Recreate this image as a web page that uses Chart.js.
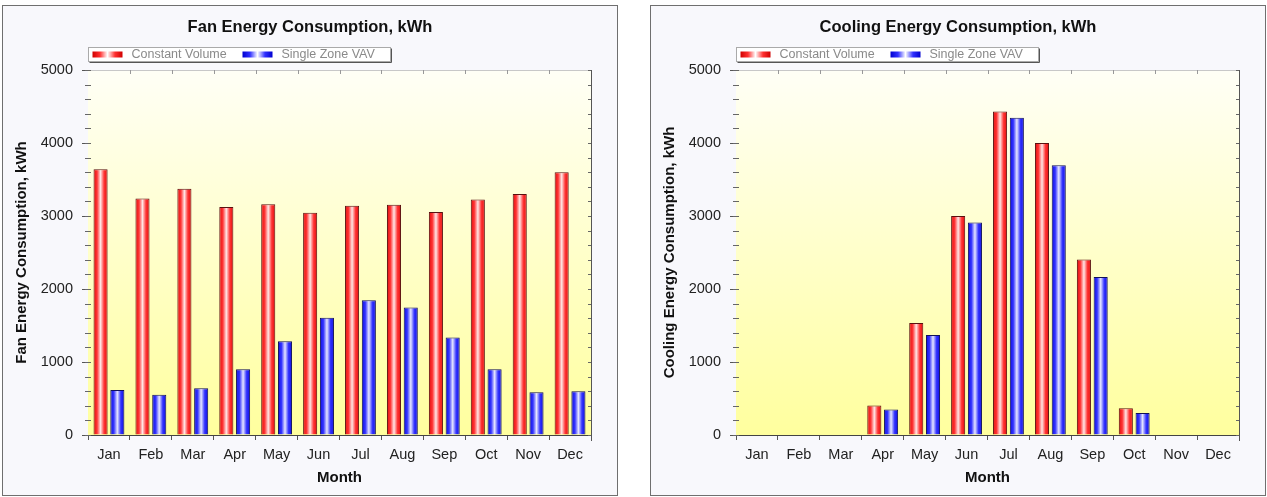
<!DOCTYPE html>
<html>
<head>
<meta charset="utf-8">
<script src="https://cdn.jsdelivr.net/npm/chart.js@4.4.1/dist/chart.umd.min.js"></script>
<style>
    html, body { margin: 0; padding: 0; background: #ffffff; width: 1267px; height: 497px; overflow: hidden; }
    .panel {
        position: absolute;
        top: 5px;
        width: 616px;
        height: 491px;
        box-sizing: border-box;
        border: 1px solid #6f6f6f;
        background: #f8f8fc;
    }
    .panel canvas { display: block; }
</style>
</head>
<body>
<div class="panel" style="left:2px"><canvas id="fanChart" width="614" height="489"></canvas></div>
<div class="panel" style="left:650px"><canvas id="coolingChart" width="614" height="489"></canvas></div>
<script>
// Monthly data (kWh)
const months = ['Jan', 'Feb', 'Mar', 'Apr', 'May', 'Jun', 'Jul', 'Aug', 'Sep', 'Oct', 'Nov', 'Dec'];
const seriesNames = ['Constant Volume', 'Single Zone VAV'];

const fanConstant = [3640, 3240, 3375, 3125, 3160, 3045, 3140, 3155, 3055, 3225, 3300, 3600];
const fanVav = [615, 550, 640, 900, 1285, 1605, 1845, 1745, 1335, 900, 585, 600];

const coolConstant = [0, 0, 0, 405, 1535, 3000, 4430, 4000, 2405, 365, 0, 0];
const coolVav = [0, 0, 0, 350, 1370, 2910, 4345, 3695, 2165, 300, 0, 0];

const yMax = 5000;
const yMajorStep = 1000;
const yMinorStep = 200;

const FONT = '"Liberation Sans", Arial, sans-serif';
const CAT_PCT = 0.8;
const BAR_PCT = 0.84;

// red / blue "cylinder" shading across the bar width
const redStops = ['#e00c0c', '#ff3434', '#ffe6e6', '#ff3434', '#e00c0c'];
const blueStops = ['#0c0ce0', '#3434ff', '#e6e6ff', '#3434ff', '#0c0ce0'];
const redSwatch = ['#d00000', '#ff3030', '#ffffff', '#ff3030', '#d00000'];
const blueSwatch = ['#0000d0', '#3030ff', '#ffffff', '#3030ff', '#0000d0'];

function fillStops(grad, stops) {
    stops.forEach(function (c, i) { grad.addColorStop(i / (stops.length - 1), c); });
    return grad;
}

function cylinder(stops) {
    return function (ctx) {
        const chart = ctx.chart;
        const xs = chart.scales.x;
        if (!xs || ctx.dataIndex === undefined || !isFinite(xs.width) || xs.width <= 0) return stops[0];
        const cw = xs.width / months.length;
        const slot = cw * CAT_PCT / 2;
        const w = slot * BAR_PCT;
        const cx = xs.getPixelForValue(ctx.dataIndex) + (ctx.datasetIndex === 0 ? -slot / 2 : slot / 2);
        if (!isFinite(cx)) return stops[0];
        return fillStops(chart.ctx.createLinearGradient(cx - w / 2, 0, cx + w / 2, 0), stops);
    };
}

const panelDecor = {
    id: 'panelDecor',
    beforeDatasetsDraw(chart) {
        const { ctx, chartArea: a } = chart;
        ctx.save();
        const g = ctx.createLinearGradient(0, a.top, 0, a.bottom);
        g.addColorStop(0, '#fffff6');
        g.addColorStop(1, '#ffff9e');
        ctx.fillStyle = g;
        ctx.fillRect(a.left, a.top, a.right - a.left, a.bottom - a.top);
        ctx.restore();
    },
    afterDraw(chart, args, opts) {
        const { ctx, chartArea: a } = chart;
        const ys = chart.scales.y;
        const xs = chart.scales.x;
        ctx.save();

        // frame: light top, dark right
        ctx.lineWidth = 1;
        ctx.strokeStyle = '#c8c8c8';
        ctx.beginPath();
        ctx.moveTo(a.left, a.top + 0.5);
        ctx.lineTo(a.right, a.top + 0.5);
        ctx.stroke();
        ctx.strokeStyle = '#555';
        ctx.beginPath();
        ctx.moveTo(a.right + 0.5, a.top);
        ctx.lineTo(a.right + 0.5, a.bottom + 6);
        ctx.stroke();

        // minor ticks on left axis and inward ticks on right edge
        ctx.strokeStyle = '#666';
        for (let v = 0; v <= yMax; v += yMinorStep) {
            const y = Math.round(ys.getPixelForValue(v)) + 0.5;
            ctx.beginPath();
            ctx.moveTo(a.left - 3, y);
            ctx.lineTo(a.left + 3, y);
            ctx.moveTo(a.right - 3, y);
            ctx.lineTo(a.right, y);
            ctx.stroke();
        }
        // top edge ticks at category boundaries
        ctx.strokeStyle = '#999';
        for (let i = 1; i < months.length; i++) {
            const x = Math.round(xs.getPixelForValue(i) - xs.width / months.length / 2) + 0.5;
            ctx.beginPath();
            ctx.moveTo(x, a.top);
            ctx.lineTo(x, a.top + 4);
            ctx.stroke();
        }

        // title
        ctx.fillStyle = '#111';
        ctx.font = 'bold 16.5px ' + FONT;
        ctx.textAlign = 'center';
        ctx.textBaseline = 'middle';
        ctx.fillText(opts.title, chart.width / 2, 21);

        // legend box
        const lx = a.left + 0.5, ly = 41.5, lw = 302, lh = 14;
        ctx.fillStyle = '#ffffff';
        ctx.fillRect(lx, ly, lw, lh);
        ctx.strokeStyle = '#aaa';
        ctx.strokeRect(lx, ly, lw, lh);
        ctx.strokeStyle = '#555';
        ctx.beginPath();
        ctx.moveTo(lx + lw + 1, ly + 1);
        ctx.lineTo(lx + lw + 1, ly + lh + 1);
        ctx.lineTo(lx + 1, ly + lh + 1);
        ctx.stroke();

        const entries = [
            { x: lx + 4, stops: redSwatch, label: seriesNames[0] },
            { x: lx + 154, stops: blueSwatch, label: seriesNames[1] }
        ];
        ctx.font = '12.5px ' + FONT;
        ctx.textAlign = 'left';
        entries.forEach(function (e) {
            ctx.fillStyle = fillStops(ctx.createLinearGradient(e.x, 0, e.x + 30, 0), e.stops);
            ctx.fillRect(e.x, ly + 4, 30, 6);
            ctx.fillStyle = '#8a8a8a';
            ctx.fillText(e.label, e.x + 39, ly + lh / 2 + 0.5);
        });
        ctx.restore();
    }
};

function makeChart(canvasId, title, yTitle, constantData, vavData) {
    const el = document.getElementById(canvasId);
    if (!el) return;

    new Chart(el, {
        type: 'bar',
        data: {
            labels: months,
            datasets: [{
                label: seriesNames[0],
                data: constantData,
                backgroundColor: cylinder(redStops),
                borderColor: '#5a1010',
                borderWidth: function (ctx) { return ctx.raw ? 1 : 0; },
                categoryPercentage: CAT_PCT,
                barPercentage: BAR_PCT
            }, {
                label: seriesNames[1],
                data: vavData,
                backgroundColor: cylinder(blueStops),
                borderColor: '#10105a',
                borderWidth: function (ctx) { return ctx.raw ? 1 : 0; },
                categoryPercentage: CAT_PCT,
                barPercentage: BAR_PCT
            }]
        },
        options: {
            responsive: false,
            animation: false,
            layout: { padding: { top: 64, left: 0, right: 26, bottom: 0 } },
            plugins: {
                legend: { display: false },
                title: { display: false },
                tooltip: { enabled: false },
                panelDecor: { title: title }
            },
            scales: {
                x: {
                    afterFit: function (scale) { scale.height = 60; },
                    border: { color: '#444', width: 1 },
                    grid: {
                        offset: true,
                        drawOnChartArea: false,
                        tickLength: 5,
                        color: '#555'
                    },
                    ticks: {
                        color: '#222',
                        padding: 6,
                        font: { family: FONT, size: 14.5 }
                    },
                    title: {
                        display: true,
                        text: 'Month',
                        color: '#111',
                        padding: { top: 0, bottom: 8 },
                        font: { family: FONT, size: 15, weight: 'bold' }
                    }
                },
                y: {
                    min: 0,
                    max: yMax,
                    afterFit: function (scale) { scale.width = 85; },
                    border: { color: '#444', width: 1 },
                    grid: {
                        drawOnChartArea: false,
                        tickLength: 6,
                        color: function (ctx) {
                            return ctx.tick && ctx.tick.value % yMajorStep === 0 ? '#555' : 'rgba(0,0,0,0)';
                        }
                    },
                    ticks: {
                        stepSize: yMinorStep,
                        autoSkip: false,
                        color: '#222',
                        padding: 9,
                        font: { family: FONT, size: 14.5 },
                        callback: function (value) { return value % yMajorStep === 0 ? value : ''; }
                    },
                    title: {
                        display: true,
                        text: yTitle,
                        color: '#111',
                        padding: { top: 10, bottom: 0 },
                        font: { family: FONT, size: 15, weight: 'bold' }
                    }
                }
            }
        },
        plugins: [panelDecor]
    });
}

makeChart('fanChart', 'Fan Energy Consumption, kWh', 'Fan Energy Consumption, kWh', fanConstant, fanVav);
makeChart('coolingChart', 'Cooling Energy Consumption, kWh', 'Cooling Energy Consumption, kWh', coolConstant, coolVav);
</script>
</body>
</html>
